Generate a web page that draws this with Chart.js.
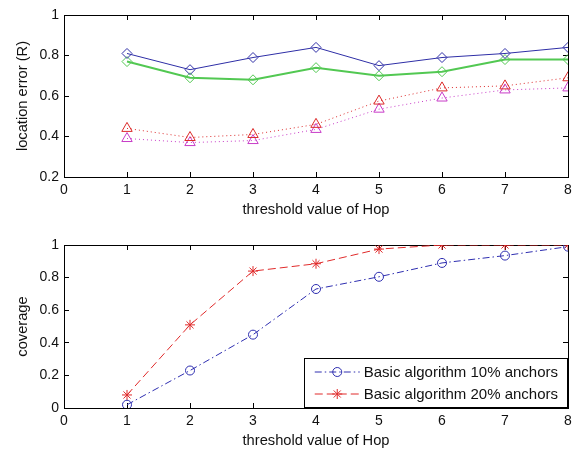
<!DOCTYPE html>
<html>
<head>
<meta charset="utf-8">
<script src="https://cdn.jsdelivr.net/npm/chart.js@4"></script>
<style>
  html, body { margin: 0; padding: 0; background: #fff; }
  #wrap { position: relative; width: 573px; height: 452px; overflow: hidden; }
  canvas { position: absolute; left: 0; }
  #errChart { top: -5px; }
  #covChart { top: 222px; }
</style>
</head>
<body>
<div id="wrap">
  <canvas id="errChart" width="582" height="227"></canvas>
  <canvas id="covChart" width="582" height="230"></canvas>
</div>
<script>
// x values (threshold value of Hop)
const hops = [1, 2, 3, 4, 5, 6, 7, 8];

// top plot: location error (R), four unlabeled series
const errBlue    = [0.81, 0.73, 0.79, 0.84, 0.75, 0.79, 0.81, 0.84];
const errGreen   = [0.77, 0.69, 0.68, 0.74, 0.70, 0.72, 0.78, 0.78];
const errRed     = [0.44, 0.395, 0.41, 0.46, 0.575, 0.64, 0.65, 0.69];
const errMagenta = [0.39, 0.37, 0.38, 0.435, 0.535, 0.59, 0.63, 0.64];

// bottom plot: coverage
const coverLabels = ['Basic algorithm 10% anchors', 'Basic algorithm 20% anchors'];
const cover10 = [0.02, 0.23, 0.45, 0.73, 0.805, 0.89, 0.935, 0.99];
const cover20 = [0.08, 0.51, 0.84, 0.885, 0.975, 1.0, 1.0, 1.0];

const FONT = '"Liberation Sans", Arial, Helvetica, sans-serif';
Chart.defaults.font.family = FONT;
Chart.defaults.font.size = 14;
Chart.defaults.color = '#111';

const pts = ys => hops.map((h, i) => ({ x: h, y: ys[i] }));

function series(label, ys, color, style, radius, dash, width) {
  return {
    label: label,
    data: pts(ys),
    borderColor: color,
    borderWidth: width || 1,
    borderDash: dash || [],
    pointStyle: style,
    pointRadius: radius,
    pointBorderColor: color,
    pointBackgroundColor: 'rgba(0,0,0,0)',
    pointBorderWidth: 1,
    fill: false,
    tension: 0
  };
}

// Matlab style box: inward ticks on all four sides
// (top/right axes are wide enough to hold the label padding, canvas spills past the page edge)
function buildScales(yMin, yTitle, topH, xH, titlePadBottom) {
  const marks = { drawOnChartArea: false, tickLength: -5, color: '#000', lineWidth: 1 };
  const edge = { color: '#000', width: 1 };
  const fmt = v => String(+v.toFixed(1));
  const titleFont = { size: 14.7 };
  return {
    x: {
      type: 'linear', position: 'bottom', min: 0, max: 8,
      ticks: { stepSize: 1, padding: 9.6, callback: fmt, maxRotation: 0 },
      grid: marks, border: edge,
      title: { display: true, text: 'threshold value of Hop', font: titleFont, padding: { top: 0, bottom: titlePadBottom } },
      afterFit: s => { s.height = xH; }
    },
    x2: {
      type: 'linear', position: 'top', min: 0, max: 8,
      ticks: { stepSize: 1, display: false },
      grid: marks, border: edge,
      afterFit: s => { s.height = topH; }
    },
    y: {
      type: 'linear', position: 'left', min: yMin, max: 1,
      ticks: { stepSize: 0.2, padding: 10, callback: fmt },
      grid: marks, border: edge,
      title: { display: true, text: yTitle, font: titleFont, padding: { top: 14.2, bottom: 0 } },
      afterFit: s => { s.width = 64; }
    },
    y2: {
      type: 'linear', position: 'right', min: yMin, max: 1,
      ticks: { stepSize: 0.2, display: false },
      grid: marks, border: edge,
      afterFit: s => { s.width = 14; }
    }
  };
}

// legend box drawn inside the lower right corner of the plot area
const boxLegend = {
  id: 'boxLegend',
  afterDraw(chart, args, opts) {
    if (!opts.show) return;
    const { ctx, chartArea } = chart;
    const sets = chart.data.datasets;
    ctx.save();
    ctx.font = '15px ' + FONT;
    const textW = Math.max(...sets.map(d => ctx.measureText(d.label).width));
    const rowH = 22;
    const w = 11 + 45 + 4 + textW + 9;
    const h = sets.length * rowH + 5;
    const x0 = chartArea.right - 1 - w;
    const y0 = chartArea.bottom - 1 - h;
    ctx.fillStyle = '#fff';
    ctx.fillRect(x0, y0, w, h);
    ctx.strokeStyle = '#000';
    ctx.lineWidth = 1;
    ctx.strokeRect(Math.round(x0) + 0.5, Math.round(y0) + 0.5, Math.round(w), Math.round(h));
    sets.forEach((d, i) => {
      const cy = y0 + 14 + i * rowH;
      ctx.strokeStyle = d.borderColor;
      ctx.lineWidth = d.borderWidth;
      ctx.setLineDash(d.borderDash);
      ctx.beginPath();
      ctx.moveTo(x0 + 11, cy);
      ctx.lineTo(x0 + 56, cy);
      ctx.stroke();
      ctx.setLineDash([]);
      ctx.lineWidth = 1;
      ctx.fillStyle = 'rgba(0,0,0,0)';
      Chart.helpers.drawPoint(ctx, { pointStyle: d.pointStyle, radius: d.pointRadius, rotation: 0, borderWidth: 1 }, x0 + 33.5, cy);
      ctx.fillStyle = '#111';
      ctx.textBaseline = 'middle';
      ctx.textAlign = 'left';
      ctx.fillText(d.label, x0 + 60, cy + 1);
    });
    ctx.restore();
  }
};

new Chart(document.getElementById('errChart'), {
  type: 'line',
  data: {
    datasets: [
      series('blue', errBlue, '#2e2ea6', 'rectRot', 5),
      series('green', errGreen, '#52c852', 'rectRot', 5, [], 2),
      series('red', errRed, '#dc2a2a', 'triangle', 6, [1, 3]),
      series('magenta', errMagenta, '#c83cc8', 'triangle', 6, [1, 3])
    ]
  },
  options: {
    responsive: false,
    animation: false,
    layout: { padding: 0 },
    scales: buildScales(0.2, 'location error (R)', 20, 45, 3.3),
    plugins: {
      legend: { display: false },
      tooltip: { enabled: false },
      boxLegend: { show: false }
    }
  },
  plugins: [boxLegend]
});

new Chart(document.getElementById('covChart'), {
  type: 'line',
  data: {
    datasets: [
      series(coverLabels[0], cover10, '#2e2eb0', 'circle', 4.5, [7, 3, 1.5, 3]),
      series(coverLabels[1], cover20, '#e02a2a', 'star', 5, [8, 4])
    ]
  },
  options: {
    responsive: false,
    animation: false,
    layout: { padding: 0 },
    scales: buildScales(0, 'coverage', 23, 44, 2.3),
    plugins: {
      legend: { display: false },
      tooltip: { enabled: false },
      boxLegend: { show: true }
    }
  },
  plugins: [boxLegend]
});
</script>
</body>
</html>
